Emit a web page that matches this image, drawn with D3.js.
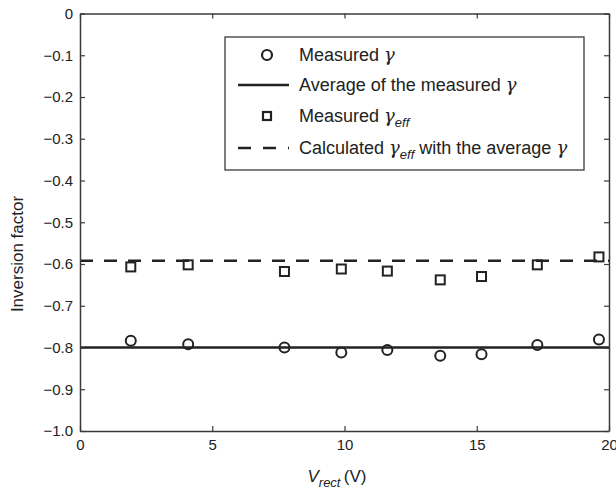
<!DOCTYPE html>
<html><head><meta charset="utf-8">
<script src="https://cdn.jsdelivr.net/npm/d3@7"></script>
<style>
body{margin:0;background:#fff;}
svg text{font-family:"Liberation Sans",Arial,Helvetica,sans-serif;fill:#222;}
</style></head>
<body><svg id="c" width="616" height="491"></svg>
<script>
// Data
const vrect = [1.92, 4.09, 7.73, 9.88, 11.62, 13.62, 15.18, 17.29, 19.62];
const gammaMeasured = [-0.784, -0.792, -0.800, -0.812, -0.806, -0.820, -0.816, -0.794, -0.781];
const gammaEffMeasured = [-0.607, -0.602, -0.618, -0.612, -0.617, -0.638, -0.630, -0.602, -0.583];
const gammaAverage = -0.800;
const gammaEffCalculated = -0.592;
const xTicks = [0, 5, 10, 15, 20];
const yTicks = [0, -0.1, -0.2, -0.3, -0.4, -0.5, -0.6, -0.7, -0.8, -0.9, -1.0];
const legendLabels = ["Measured", "Average of the measured", "Measured", "Calculated"];

const svg = d3.select("#c");
const L = 80, R = 609, T = 13.5, B = 431;
const x = d3.scaleLinear().domain([0, 20]).range([L, R]);
const y = d3.scaleLinear().domain([-1, 0]).range([B, T]);
const axisColor = "#3a3a3a";
const ink = "#222";

// average lines
svg.append("line").attr("x1", x(0)).attr("x2", x(20)).attr("y1", y(gammaAverage)).attr("y2", y(gammaAverage))
  .attr("stroke", ink).attr("stroke-width", 2.5);
svg.append("line").attr("x1", x(0)).attr("x2", x(20)).attr("y1", y(gammaEffCalculated)).attr("y2", y(gammaEffCalculated))
  .attr("stroke", ink).attr("stroke-width", 2.5).attr("stroke-dasharray", "13,11");

// axes
const fmtY = d => d === 0 ? "0" : "\u2212" + Math.abs(d).toFixed(1);
const gL = svg.append("g").attr("transform", `translate(${L},0)`)
  .call(d3.axisLeft(y).tickValues(yTicks).tickFormat(fmtY).tickSizeInner(-5).tickSizeOuter(0).tickPadding(7));
const gR = svg.append("g").attr("transform", `translate(${R},0)`)
  .call(d3.axisRight(y).tickValues(yTicks).tickFormat("").tickSizeInner(-5).tickSizeOuter(0));
const gB = svg.append("g").attr("transform", `translate(0,${B})`)
  .call(d3.axisBottom(x).tickValues(xTicks).tickFormat(d3.format("d")).tickSizeInner(-5).tickSizeOuter(0).tickPadding(8));
const gT = svg.append("g").attr("transform", `translate(0,${T})`)
  .call(d3.axisTop(x).tickValues(xTicks).tickFormat("").tickSizeInner(-5).tickSizeOuter(0));
[gL, gR, gB, gT].forEach(g => {
  g.selectAll("path.domain").attr("stroke", axisColor).attr("stroke-width", 1.5);
  g.selectAll(".tick line").attr("stroke", axisColor).attr("stroke-width", 1.2);
  g.selectAll(".tick text").attr("font-size", 15).attr("font-family", "Liberation Sans, Arial, sans-serif").attr("fill", ink);
});

// markers
svg.append("g").selectAll("circle").data(vrect).join("circle")
  .attr("cx", d => x(d)).attr("cy", (d, i) => y(gammaMeasured[i])).attr("r", 5)
  .attr("fill", "none").attr("stroke", ink).attr("stroke-width", 2);
svg.append("g").selectAll("rect").data(vrect).join("rect")
  .attr("x", d => x(d) - 4.5).attr("y", (d, i) => y(gammaEffMeasured[i]) - 4.5).attr("width", 9).attr("height", 9)
  .attr("fill", "none").attr("stroke", ink).attr("stroke-width", 2);

// axis titles
svg.append("text").attr("transform", "translate(23,254) rotate(-90)").attr("text-anchor", "middle")
  .attr("font-size", 17).text("Inversion factor");
const xt = svg.append("text").attr("x", 337).attr("y", 482).attr("text-anchor", "middle").attr("font-size", 17);
xt.append("tspan").attr("font-style", "italic").text("V");
xt.append("tspan").attr("font-style", "italic").attr("font-size", 13).attr("dy", 5).text("rect");
xt.append("tspan").attr("dy", -5).text("\u2009(V)");

// legend
const lg = svg.append("g");
lg.append("rect").attr("x", 225).attr("y", 37).attr("width", 359).attr("height", 133)
  .attr("fill", "#fff").attr("stroke", axisColor).attr("stroke-width", 1.3);
const rows = [55, 85, 116, 148];
lg.append("circle").attr("cx", 267).attr("cy", rows[0]).attr("r", 5).attr("fill", "none").attr("stroke", ink).attr("stroke-width", 2.2);
lg.append("line").attr("x1", 238).attr("x2", 289).attr("y1", rows[1]).attr("y2", rows[1]).attr("stroke", ink).attr("stroke-width", 2.5);
lg.append("rect").attr("x", 263).attr("y", rows[2] - 4).attr("width", 8).attr("height", 8).attr("fill", "none").attr("stroke", ink).attr("stroke-width", 2.2);
lg.append("line").attr("x1", 238).attr("x2", 289).attr("y1", rows[3]).attr("y2", rows[3]).attr("stroke", ink).attr("stroke-width", 2.5).attr("stroke-dasharray", "13,12");

const fs = 18;
function gammaText(t, parts) {
  parts.forEach(p => {
    const s = t.append("tspan").text(p.s);
    if (p.it) s.attr("font-style", "italic").attr("font-family", "DejaVu Serif, serif");
    if (p.sub) s.attr("font-size", 13).attr("dy", 5).attr("font-style", "italic").attr("font-family", "Liberation Sans, Arial, sans-serif");
    if (p.up) s.attr("dy", -5);
  });
}
const tx = 299;
gammaText(lg.append("text").attr("x", tx).attr("y", rows[0] + 6).attr("font-size", fs),
  [{s: legendLabels[0] + " "}, {s: "\u03b3", it: true}]);
gammaText(lg.append("text").attr("x", tx).attr("y", rows[1] + 6).attr("font-size", fs),
  [{s: legendLabels[1] + " "}, {s: "\u03b3", it: true}]);
gammaText(lg.append("text").attr("x", tx).attr("y", rows[2] + 6).attr("font-size", fs),
  [{s: legendLabels[2] + " "}, {s: "\u03b3", it: true}, {s: "eff", sub: true}]);
gammaText(lg.append("text").attr("x", tx).attr("y", rows[3] + 6).attr("font-size", fs),
  [{s: legendLabels[3] + " "}, {s: "\u03b3", it: true}, {s: "eff", sub: true}, {s: " with the average ", up: true}, {s: "\u03b3", it: true}]);
</script></body></html>
